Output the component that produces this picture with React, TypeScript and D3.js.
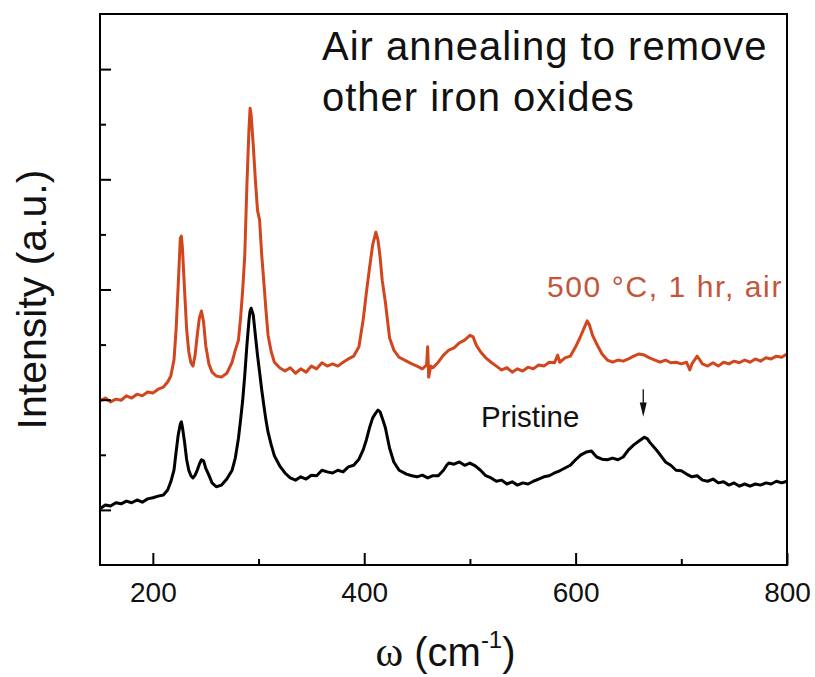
import React, { useEffect, useRef } from "react";
import * as d3 from "d3";

// Raman spectra: [raman shift (cm-1), intensity (a.u.)]
const annealed: [number, number][] = [
  [150, 2.98], [155, 3.03], [160, 2.96], [165, 3.01], [170, 2.99], [175, 3.07], [180, 3.03], [185, 3.1],
  [190, 3.07], [195, 3.14], [200, 3.12], [205, 3.19], [210, 3.23], [214, 3.32], [217, 3.43], [220, 3.72],
  [222, 4.27], [224, 5.08], [226, 5.93], [227, 5.97], [228, 5.75], [230, 4.99], [232, 4.27], [234, 3.87],
  [236, 3.67], [238, 3.61], [240, 3.81], [242, 4.17], [244, 4.48], [246, 4.61], [248, 4.41], [250, 3.99],
  [253, 3.65], [256, 3.5], [260, 3.43], [265, 3.41], [270, 3.48], [275, 3.68], [278, 3.9], [281, 4.08],
  [283, 4.48], [285, 4.99], [287, 5.63], [289, 6.9], [291, 7.93], [292, 8.29], [293, 8.17], [295, 7.62],
  [297, 6.99], [299, 6.44], [301, 6.26], [303, 5.63], [305, 5.14], [307, 4.63], [309, 4.17], [312, 3.87],
  [315, 3.68], [320, 3.58], [325, 3.52], [330, 3.58], [335, 3.48], [340, 3.56], [345, 3.5], [350, 3.61],
  [355, 3.56], [360, 3.67], [365, 3.61], [370, 3.65], [375, 3.61], [380, 3.68], [385, 3.74], [390, 3.79],
  [395, 3.96], [399, 4.45], [402, 4.94], [405, 5.39], [408, 5.81], [411, 6.04], [413, 5.9], [415, 5.59],
  [417, 5.17], [420, 4.77], [424, 4.12], [428, 3.9], [433, 3.77], [440, 3.7], [445, 3.65], [450, 3.61],
  [455, 3.56], [459, 3.63], [460, 3.96], [461, 3.41], [463, 3.61], [465, 3.58], [470, 3.68], [475, 3.81],
  [480, 3.9], [485, 3.94], [490, 4.03], [495, 4.08], [500, 4.17], [503, 4.14], [506, 3.99], [510, 3.87],
  [515, 3.76], [520, 3.68], [525, 3.61], [530, 3.54], [535, 3.58], [540, 3.5], [545, 3.56], [550, 3.52],
  [555, 3.59], [560, 3.56], [565, 3.63], [570, 3.61], [575, 3.68], [580, 3.67], [583, 3.81], [585, 3.68],
  [590, 3.76], [595, 3.79], [600, 3.96], [604, 4.12], [608, 4.3], [611, 4.43], [613, 4.36], [616, 4.17],
  [620, 4.01], [625, 3.83], [630, 3.72], [635, 3.68], [640, 3.72], [645, 3.7], [650, 3.74], [655, 3.79],
  [660, 3.83], [665, 3.81], [670, 3.76], [675, 3.72], [680, 3.68], [685, 3.72], [690, 3.67], [695, 3.68],
  [700, 3.65], [705, 3.68], [708, 3.54], [710, 3.65], [715, 3.79], [720, 3.65], [725, 3.61], [730, 3.67],
  [735, 3.61], [740, 3.68], [745, 3.65], [750, 3.7], [755, 3.67], [760, 3.72], [765, 3.68], [770, 3.74],
  [775, 3.7], [780, 3.76], [785, 3.74], [790, 3.79], [795, 3.77], [800, 3.83],
];

const pristine: [number, number][] = [
  [150, 1.02], [155, 1.09], [160, 1.07], [165, 1.13], [170, 1.11], [175, 1.16], [180, 1.13], [185, 1.18],
  [190, 1.14], [195, 1.2], [200, 1.22], [205, 1.25], [210, 1.27], [214, 1.36], [217, 1.51], [220, 1.72],
  [222, 2.05], [224, 2.36], [226, 2.56], [227, 2.6], [228, 2.5], [230, 2.23], [232, 1.91], [234, 1.72],
  [236, 1.62], [238, 1.58], [240, 1.63], [242, 1.72], [244, 1.83], [246, 1.91], [248, 1.89], [250, 1.76],
  [253, 1.63], [256, 1.49], [260, 1.42], [265, 1.45], [270, 1.56], [275, 1.72], [278, 1.94], [281, 2.3],
  [283, 2.63], [285, 2.99], [287, 3.45], [289, 3.99], [291, 4.45], [292, 4.61], [293, 4.66], [295, 4.54],
  [297, 4.17], [299, 3.81], [301, 3.5], [303, 3.18], [305, 2.9], [307, 2.63], [309, 2.41], [312, 2.18],
  [315, 1.98], [320, 1.8], [325, 1.67], [330, 1.58], [335, 1.54], [340, 1.6], [345, 1.56], [350, 1.63],
  [355, 1.62], [360, 1.72], [365, 1.69], [370, 1.67], [375, 1.72], [380, 1.69], [385, 1.78], [390, 1.81],
  [395, 1.92], [399, 2.09], [402, 2.27], [405, 2.49], [408, 2.67], [411, 2.76], [413, 2.81], [415, 2.78],
  [417, 2.67], [420, 2.49], [424, 2.12], [428, 1.87], [433, 1.72], [440, 1.65], [445, 1.62], [450, 1.6],
  [455, 1.63], [460, 1.58], [465, 1.62], [470, 1.62], [475, 1.72], [478, 1.81], [480, 1.85], [485, 1.83],
  [490, 1.87], [495, 1.81], [500, 1.85], [505, 1.8], [510, 1.72], [515, 1.62], [520, 1.58], [525, 1.52],
  [530, 1.54], [535, 1.47], [540, 1.51], [545, 1.45], [550, 1.49], [555, 1.47], [560, 1.52], [565, 1.56],
  [570, 1.6], [575, 1.62], [580, 1.67], [585, 1.71], [590, 1.76], [595, 1.81], [600, 1.91], [605, 2.0],
  [610, 2.05], [615, 2.07], [618, 2.0], [620, 1.96], [625, 1.92], [630, 1.91], [635, 1.94], [640, 1.91],
  [645, 1.96], [650, 2.09], [655, 2.18], [660, 2.25], [665, 2.32], [668, 2.29], [670, 2.23], [675, 2.12],
  [680, 2.0], [685, 1.87], [690, 1.81], [695, 1.72], [700, 1.71], [705, 1.65], [710, 1.6], [715, 1.62],
  [720, 1.54], [725, 1.52], [730, 1.56], [735, 1.49], [740, 1.51], [745, 1.45], [750, 1.49], [755, 1.43],
  [760, 1.47], [765, 1.43], [770, 1.47], [775, 1.45], [780, 1.49], [785, 1.47], [790, 1.52], [795, 1.49],
  [800, 1.52],
];

const xMajorTicks = [200, 400, 600, 800];
const xMinorTicks = [300, 500, 700];
const yMajorTicks = [1, 3, 5, 7, 9];
const yMinorTicks = [2, 4, 6, 8];
const titleLines = ["Air annealing to remove", "other iron oxides"];
const arrowAt = 664;

const width = 815;
const height = 677;
const margin = { left: 100, right: 28, top: 14, bottom: 112 };
const sans = "'Liberation Sans', Arial, sans-serif";
const orange = "#D2461E";

const RamanChart = () => {
  const ref = useRef<SVGSVGElement>(null);

  function drawChart() {
    const svg = d3.select(ref.current);
    svg.selectAll("*").remove();

    const x = d3.scaleLinear().domain([150, 800]).range([margin.left, width - margin.right]);
    const y = d3.scaleLinear().domain([0, 10]).range([height - margin.bottom, margin.top]);

    const line = d3
      .line<[number, number]>()
      .x((d) => x(d[0]))
      .y((d) => y(d[1]));

    // spectra
    svg.append("path").datum(pristine).attr("d", line).attr("fill", "none")
      .attr("stroke", "#000").attr("stroke-width", 3).attr("stroke-linejoin", "round");
    svg.append("path").datum(annealed).attr("d", line).attr("fill", "none")
      .attr("stroke", orange).attr("stroke-width", 3).attr("stroke-linejoin", "round");

    // frame
    svg.append("rect")
      .attr("x", x(150)).attr("y", y(10))
      .attr("width", x(800) - x(150)).attr("height", y(0) - y(10))
      .attr("fill", "none").attr("stroke", "#000").attr("stroke-width", 2);

    // bottom axis, ticks inward
    const xAxis = svg.append("g").attr("transform", `translate(0,${y(0)})`)
      .call(d3.axisBottom(x).tickValues(xMajorTicks).tickSizeInner(-12).tickSizeOuter(0).tickPadding(17));
    xAxis.select(".domain").remove();
    xAxis.selectAll("line").attr("stroke-width", 2);
    xAxis.selectAll("text").attr("font-family", sans).attr("font-size", 28).attr("fill", "#111");
    const xMinor = svg.append("g").attr("transform", `translate(0,${y(0)})`)
      .call(d3.axisBottom(x).tickValues(xMinorTicks).tickSizeInner(-6).tickSizeOuter(0).tickFormat(() => ""));
    xMinor.select(".domain").remove();
    xMinor.selectAll("line").attr("stroke-width", 2);

    // left axis, ticks inward, no labels
    const yMajor = svg.append("g").attr("transform", `translate(${x(150)},0)`)
      .call(d3.axisLeft(y).tickValues(yMajorTicks).tickSizeInner(-11).tickSizeOuter(0).tickFormat(() => ""));
    yMajor.select(".domain").remove();
    yMajor.selectAll("line").attr("stroke-width", 2);
    const yMinor = svg.append("g").attr("transform", `translate(${x(150)},0)`)
      .call(d3.axisLeft(y).tickValues(yMinorTicks).tickSizeInner(-6).tickSizeOuter(0).tickFormat(() => ""));
    yMinor.select(".domain").remove();
    yMinor.selectAll("line").attr("stroke-width", 2);

    // axis titles
    svg.append("text")
      .attr("transform", `translate(46,${(y(0) + y(10)) / 2 + 10}) rotate(-90)`)
      .attr("text-anchor", "middle").attr("font-family", sans).attr("font-size", 41).attr("fill", "#111")
      .text("Intensity (a.u.)");

    const xt = svg.append("text")
      .attr("x", (x(150) + x(800)) / 2 + 2).attr("y", 666)
      .attr("text-anchor", "middle").attr("font-family", sans).attr("font-size", 40).attr("fill", "#111");
    xt.append("tspan").attr("font-family", "'Liberation Serif', 'Times New Roman', serif").attr("font-size", 42).text("ω");
    xt.append("tspan").text(" (cm");
    xt.append("tspan").attr("font-size", 24).attr("dy", -18).text("-1");
    xt.append("tspan").attr("dy", 18).text(")");

    // annotations
    svg.append("g").selectAll("text").data(titleLines).join("text")
      .attr("x", 322).attr("y", (d, i) => 60 + i * 51)
      .attr("font-family", sans).attr("font-size", 40).attr("letter-spacing", 1).attr("fill", "#111")
      .text((d) => d);

    svg.append("text").attr("x", 547).attr("y", 297)
      .attr("font-family", sans).attr("font-size", 30).attr("letter-spacing", 1.6).attr("fill", "#C4553B")
      .text("500 °C, 1 hr, air");

    svg.append("text").attr("x", 481).attr("y", 427)
      .attr("font-family", sans).attr("font-size", 29.5).attr("fill", "#111")
      .text("Pristine");

    const ax = x(arrowAt);
    svg.append("line").attr("x1", ax).attr("x2", ax).attr("y1", y(3.19)).attr("y2", y(2.85))
      .attr("stroke", "#111").attr("stroke-width", 1.3);
    svg.append("path")
      .attr("d", `M${ax - 3.5},${y(2.95)} L${ax + 3.5},${y(2.95)} L${ax},${y(2.69)} Z`)
      .attr("fill", "#111");
  }

  useEffect(() => {
    drawChart();
  }, []);

  return (
    <svg
      ref={ref}
      width={width}
      height={height}
      style={{ position: "absolute", left: 0, top: 0, background: "#fff" }}
    ></svg>
  );
};

export default function App() {
  return <RamanChart />;
}
